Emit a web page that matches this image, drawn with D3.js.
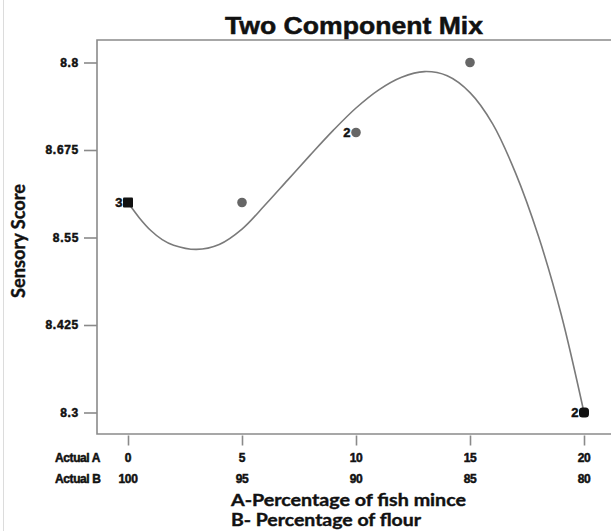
<!DOCTYPE html>
<html>
<head>
<meta charset="utf-8">
<script src="https://cdn.jsdelivr.net/npm/d3@7"></script>
<style>
  body { margin: 0; background: #fff; }
  svg { display: block; }
</style>
</head>
<body>
<div id="chart"></div>
<script>
// design points (A = % fish mince, B = % flour)
const actualA = [0, 5, 10, 15, 20];
const actualB = [100, 95, 90, 85, 80];
const sensory = [8.6, 8.6, 8.7, 8.8, 8.3];
const replicates = ["3", "", "2", "", "2"];

// fitted model line
const curveA = [0, 0.5, 1, 1.5, 2, 3, 4, 5, 6, 7, 8, 9, 10, 11, 12, 13, 14, 15, 16, 17, 18, 19, 20];
const curveY = [8.600, 8.578, 8.560, 8.547, 8.539, 8.533, 8.540, 8.562, 8.596, 8.632, 8.668, 8.703,
    8.735, 8.761, 8.779, 8.787, 8.781, 8.757, 8.712, 8.642, 8.552, 8.440, 8.300];

const yTicks = [8.3, 8.425, 8.55, 8.675, 8.8];

const width = 611, height = 531;
const frame = { left: 97, top: 40, bottom: 434 };

const svg = d3.select("#chart").append("svg")
    .attr("width", width)
    .attr("height", height);

const x = d3.scaleLinear().domain([0, 20]).range([128, 584]);
const y = d3.scaleLinear().domain([8.3, 8.8]).range([412.5, 62.5]);

// faint border on the left of the image
svg.append("line")
    .attr("x1", 3.5).attr("x2", 3.5).attr("y1", 0).attr("y2", height)
    .attr("stroke", "#dcdcdc").attr("stroke-width", 1);

// frame (open on the right, runs off the picture)
svg.append("path")
    .attr("d", `M${width},${frame.top}H${frame.left}V${frame.bottom}H${width}`)
    .attr("fill", "none")
    .attr("stroke", "#8a8a8a")
    .attr("stroke-width", 1.6);

const lblFont = "Liberation Sans, Arial, sans-serif";

// heavy, slightly blurred look of the original labels
function heavy(sel, w) {
    sel.attr("stroke", "#111").attr("stroke-width", w).attr("paint-order", "stroke");
}

// y axis
const yAxis = svg.append("g")
    .attr("transform", `translate(${frame.left},0)`)
    .call(d3.axisLeft(y).tickValues(yTicks).tickSize(13).tickPadding(5)
        .tickFormat(d => String(+d.toFixed(3))));
yAxis.select(".domain").remove();
yAxis.selectAll(".tick line").attr("stroke", "#8a8a8a").attr("stroke-width", 1.6);
yAxis.selectAll(".tick text")
    .attr("font-family", lblFont)
    .attr("font-weight", "bold")
    .attr("font-size", 12)
    .attr("letter-spacing", 0.7)
    .attr("fill", "#111")
    .call(heavy, 0.5);

// x axis ticks
const xAxis = svg.append("g")
    .attr("transform", `translate(0,${frame.bottom + 1.5})`)
    .call(d3.axisBottom(x).tickValues(actualA).tickSize(10).tickFormat(""));
xAxis.select(".domain").remove();
xAxis.selectAll(".tick line").attr("stroke", "#8a8a8a").attr("stroke-width", 1.6);

// Actual A / Actual B rows
const rows = [
    { name: "Actual A", vals: actualA, yy: 458 },
    { name: "Actual B", vals: actualB, yy: 479 }
];
rows.forEach(r => {
    svg.append("text")
        .attr("x", 55).attr("y", r.yy).attr("dy", "0.35em")
        .attr("font-family", lblFont).attr("font-weight", "bold")
        .attr("font-size", 12).attr("letter-spacing", -0.4)
        .attr("fill", "#111")
        .call(heavy, 0.5)
        .text(r.name);
    svg.append("g").selectAll("text")
        .data(r.vals)
        .join("text")
        .attr("x", (d, i) => x(actualA[i]))
        .attr("y", r.yy).attr("dy", "0.35em")
        .attr("text-anchor", "middle")
        .attr("font-family", lblFont).attr("font-weight", "bold")
        .attr("font-size", 12).attr("letter-spacing", -0.4)
        .attr("fill", "#111")
        .call(heavy, 0.5)
        .text(d => d);
});

// axis titles
const titleFont = "Lato, Open Sans, sans-serif";
svg.append("text")
    .attr("x", 231).attr("y", 500).attr("dy", "0.35em")
    .attr("font-family", titleFont).attr("font-weight", "bold").attr("font-size", 17)
    .attr("textLength", 235).attr("lengthAdjust", "spacingAndGlyphs")
    .attr("fill", "#111")
    .call(heavy, 0.4)
    .text("A-Percentage of fish mince");
svg.append("text")
    .attr("x", 231).attr("y", 520).attr("dy", "0.35em")
    .attr("font-family", titleFont).attr("font-weight", "bold").attr("font-size", 16.5)
    .attr("textLength", 190).attr("lengthAdjust", "spacingAndGlyphs")
    .attr("fill", "#111")
    .call(heavy, 0.4)
    .text("B- Percentage of flour");

svg.append("text")
    .attr("transform", "translate(19,241) rotate(-90)")
    .attr("text-anchor", "middle").attr("dy", "0.35em")
    .attr("font-family", titleFont).attr("font-weight", "bold").attr("font-size", 18)
    .attr("textLength", 114).attr("lengthAdjust", "spacingAndGlyphs")
    .attr("fill", "#111")
    .call(heavy, 0.4)
    .text("Sensory Score");

// chart title
svg.append("text")
    .attr("x", 354).attr("y", 34)
    .attr("text-anchor", "middle")
    .attr("font-family", lblFont)
    .attr("font-weight", "bold").attr("font-size", 24)
    .attr("textLength", 258).attr("lengthAdjust", "spacingAndGlyphs")
    .attr("fill", "#111")
    .call(heavy, 0.5)
    .text("Two Component Mix");

// model line
const line = d3.line()
    .x((d, i) => x(curveA[i]))
    .y(d => y(d))
    .curve(d3.curveCatmullRom);
svg.append("path")
    .datum(curveY)
    .attr("d", line)
    .attr("fill", "none")
    .attr("stroke", "#7a7a7a")
    .attr("stroke-width", 1.6);

// design points: the end points are drawn dark
const points = actualA.map((a, i) => ({ a, v: sensory[i], rep: replicates[i], end: i === 0 || i === actualA.length - 1 }));

const pts = svg.append("g");
pts.selectAll("rect")
    .data(points.filter(d => d.end))
    .join("rect")
    .attr("x", d => x(d.a) - 5)
    .attr("y", d => y(d.v) - 5)
    .attr("width", 10).attr("height", 10)
    .attr("rx", (d, i) => i === 0 ? 1 : 3.5)
    .attr("fill", "#111");
pts.selectAll("circle")
    .data(points.filter(d => !d.end))
    .join("circle")
    .attr("cx", d => x(d.a))
    .attr("cy", d => y(d.v))
    .attr("r", 4.8)
    .attr("fill", "#666");

pts.selectAll("text")
    .data(points.filter(d => d.rep))
    .join("text")
    .attr("x", d => x(d.a) - 5.5)
    .attr("y", d => y(d.v)).attr("dy", "0.36em")
    .attr("text-anchor", "end")
    .attr("font-family", lblFont)
    .attr("font-weight", "bold").attr("font-size", 13)
    .attr("fill", "#111")
    .call(heavy, 0.5)
    .text(d => d.rep);
</script>
</body>
</html>
